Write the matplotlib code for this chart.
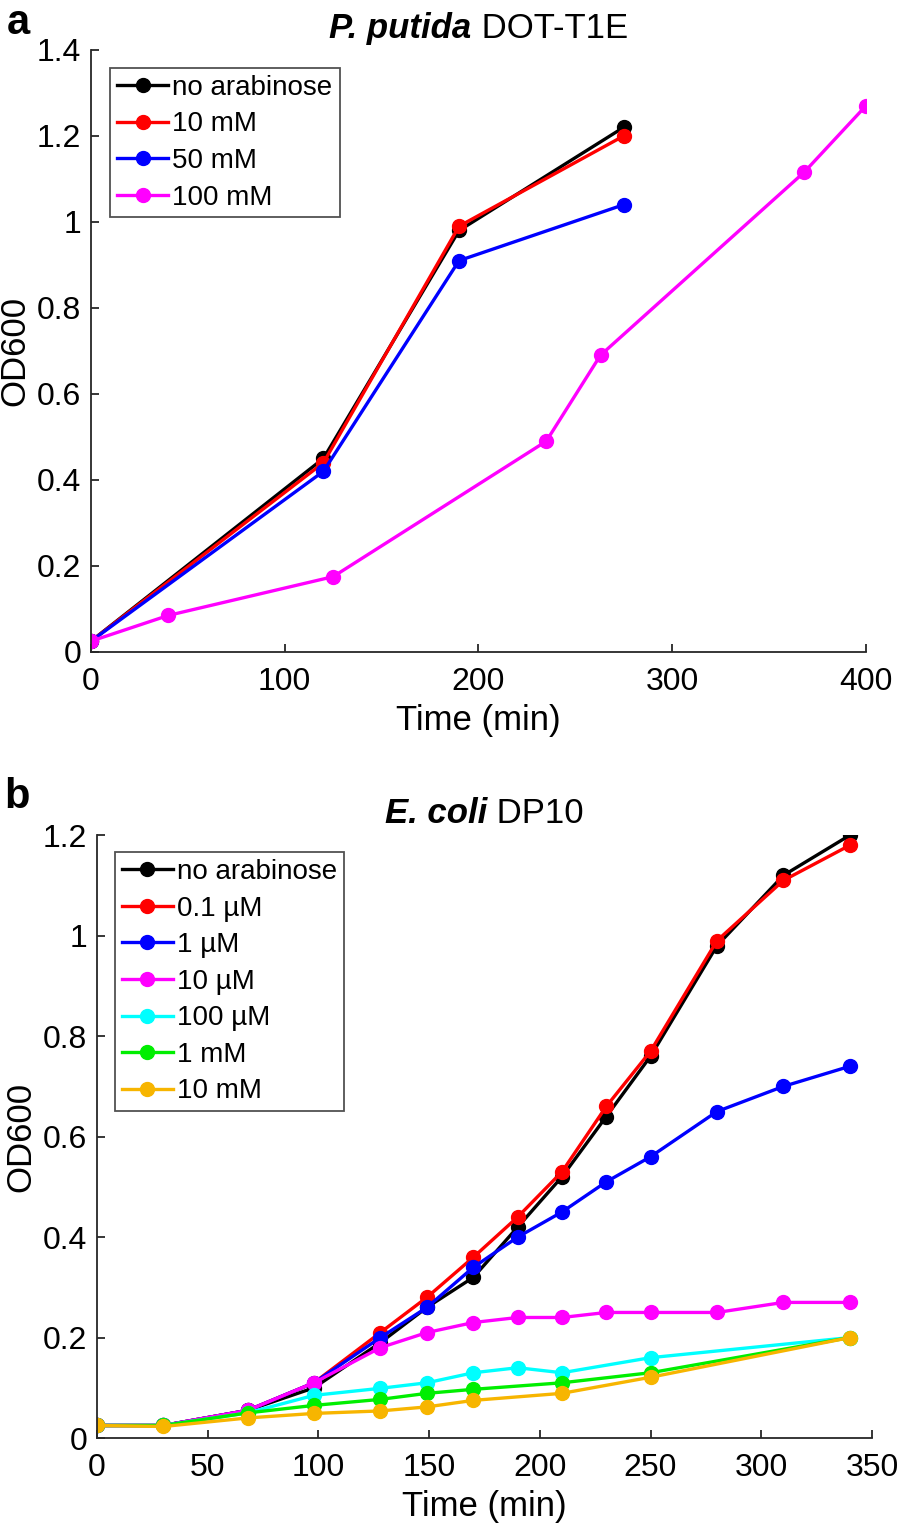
import matplotlib
matplotlib.use('Agg')
import matplotlib.pyplot as plt
import numpy as np

plt.rcParams['font.family'] = ['Liberation Sans', 'DejaVu Sans']

# panel a: P. putida DOT-T1E
ta_main = [0, 120, 190, 275]
od_a_none = [0.025, 0.45, 0.98, 1.22]
od_a_10 = [0.025, 0.44, 0.99, 1.20]
od_a_50 = [0.025, 0.42, 0.91, 1.04]
ta_100 = [0, 40, 125, 235, 263, 368, 400]
od_a_100 = [0.025, 0.085, 0.175, 0.49, 0.69, 1.115, 1.27]
labels_a = ['no arabinose', '10 mM', '50 mM', '100 mM']

# panel b: E. coli DP10
tb = [0, 30, 68, 98, 128, 149, 170, 190, 210, 230, 250, 280, 310, 340]
od_b_none = [0.025, 0.025, 0.055, 0.10, 0.19, 0.26, 0.32, 0.42, 0.52, 0.64, 0.76, 0.98, 1.12, 1.20]
od_b_01u = [0.025, 0.025, 0.055, 0.11, 0.21, 0.28, 0.36, 0.44, 0.53, 0.66, 0.77, 0.99, 1.11, 1.18]
od_b_1u = [0.025, 0.025, 0.055, 0.11, 0.20, 0.26, 0.34, 0.40, 0.45, 0.51, 0.56, 0.65, 0.70, 0.74]
od_b_10u = [0.025, 0.025, 0.055, 0.11, 0.18, 0.21, 0.23, 0.24, 0.24, 0.25, 0.25, 0.25, 0.27, 0.27]
tb_100u = [0, 30, 68, 98, 128, 149, 170, 190, 210, 250, 340]
od_b_100u = [0.025, 0.025, 0.05, 0.085, 0.099, 0.11, 0.13, 0.14, 0.13, 0.16, 0.20]
tb_mm = [0, 30, 68, 98, 128, 149, 170, 210, 250, 340]
od_b_1m = [0.025, 0.025, 0.05, 0.065, 0.077, 0.089, 0.097, 0.11, 0.13, 0.20]
od_b_10m = [0.025, 0.023, 0.04, 0.049, 0.054, 0.062, 0.075, 0.089, 0.121, 0.20]
labels_b = ['no arabinose', '0.1 µM', '1 µM', '10 µM', '100 µM', '1 mM', '10 mM']

cols = ['black', 'red', 'blue', 'magenta', 'cyan', '#00ee00', '#f7b500']
axcol = '#262626'

fig = plt.figure(figsize=(8.98, 15.3), dpi=100)
axa = fig.add_axes([0.1013, 0.5739, 0.863, 0.3935])
axb = fig.add_axes([0.108, 0.0601, 0.863, 0.394])

kw = dict(lw=2.4, marker='o', ms=10)
axa.plot(ta_main, od_a_none, color=cols[0], label=labels_a[0], **kw)
axa.plot(ta_main, od_a_10, color=cols[1], label=labels_a[1], **kw)
axa.plot(ta_main, od_a_50, color=cols[2], label=labels_a[2], **kw)
axa.plot(ta_100, od_a_100, color=cols[3], label=labels_a[3], **kw)

axb.plot(tb, od_b_none, color=cols[0], label=labels_b[0], **kw)
axb.plot(tb, od_b_01u, color=cols[1], label=labels_b[1], **kw)
axb.plot(tb, od_b_1u, color=cols[2], label=labels_b[2], **kw)
axb.plot(tb, od_b_10u, color=cols[3], label=labels_b[3], **kw)
axb.plot(tb_100u, od_b_100u, color=cols[4], label=labels_b[4], **kw)
axb.plot(tb_mm, od_b_1m, color=cols[5], label=labels_b[5], **kw)
axb.plot(tb_mm, od_b_10m, color=cols[6], label=labels_b[6], **kw)

axa.set_xlim(0, 400)
axa.set_ylim(0, 1.4)
axa.set_xticks([0, 100, 200, 300, 400])
axa.set_yticks(np.arange(0, 1.41, 0.2))
axa.set_yticklabels(['0', '0.2', '0.4', '0.6', '0.8', '1', '1.2', '1.4'])
axb.set_xlim(0, 350)
axb.set_ylim(0, 1.2)
axb.set_xticks(np.arange(0, 351, 50))
axb.set_yticks(np.arange(0, 1.21, 0.2))
axb.set_yticklabels(['0', '0.2', '0.4', '0.6', '0.8', '1', '1.2'])

for ax, title, rest, anc in [(axa, 'P. putida', ' DOT-T1E', (0.0245, 0.970)),
                             (axb, 'E. coli', ' DP10', (0.023, 0.972))]:
    for s in ['top', 'right']:
        ax.spines[s].set_visible(False)
    for s in ['left', 'bottom']:
        ax.spines[s].set_color(axcol)
        ax.spines[s].set_linewidth(1.3)
    ax.tick_params(direction='in', length=6, width=1.3, colors=axcol,
                   labelcolor='black', labelsize=23)
    ax.tick_params(axis='x', pad=11)
    ax.tick_params(axis='y', pad=7)
    ax.set_xlabel('Time (min)', fontsize=25, labelpad=5)
    ax.set_ylabel('OD600', fontsize=25, labelpad=4)
    leg = ax.legend(loc='upper left', bbox_to_anchor=anc, borderaxespad=0,
                    fontsize=20, frameon=True, fancybox=False, handlelength=1.85,
                    handletextpad=0.15, labelspacing=0.38, borderpad=0.25)
    leg.get_frame().set_edgecolor(axcol)
    leg.get_frame().set_linewidth(1.3)
    # title: italic bold species name followed by strain
    t1 = ax.text(0.5, 1.008, title, transform=ax.transAxes, fontsize=25,
                 fontweight='bold', fontstyle='italic', ha='right', va='bottom')
    ax.annotate(rest, xy=(1, 0), xycoords=t1, fontsize=25, va='bottom', ha='left')

# center the two-part titles
fig.canvas.draw()
r = fig.canvas.get_renderer()
for ax in (axa, axb):
    t1 = ax.texts[0]
    ann = [c for c in ax.get_children() if isinstance(c, matplotlib.text.Annotation)][0]
    w1 = t1.get_window_extent(r).width
    w2 = ann.get_window_extent(r).width
    axw = ax.get_window_extent(r).width
    t1.set_x(0.5 + (w1 - (w1 + w2) / 2) / axw)

fig.text(0.008, 0.998, 'a', fontsize=30, fontweight='bold', va='top', ha='left')
fig.text(0.005, 0.492, 'b', fontsize=30, fontweight='bold', va='top', ha='left')

fig.savefig('out.png', dpi=100)
